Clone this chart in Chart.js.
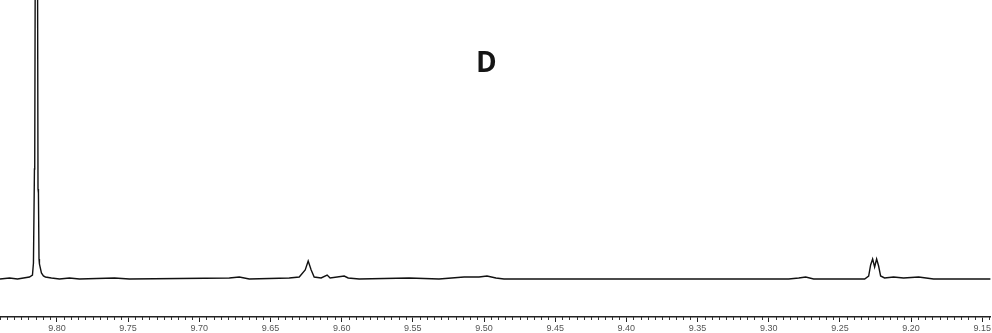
<!DOCTYPE html>
<html>
<head>
<meta charset="utf-8">
<script src="https://cdn.jsdelivr.net/npm/chart.js@4.4.0/dist/chart.umd.min.js"></script>
<style>
  html, body { margin: 0; padding: 0; background: #fff; }
  #wrap { position: relative; width: 992px; height: 333px; }
  #label { position: absolute; left: 476px; top: 47px; font: 700 28px/28px "Open Sans", sans-serif; color: #151515; }
</style>
</head>
<body>
<div id="wrap">
  <canvas id="spectrum"></canvas>
  <div id="label">D</div>
</div>
<script>
// chemical shift (ppm) and intensity
const ppm = [9.8400, 9.8333, 9.8277, 9.8235, 9.8193, 9.8172, 9.8165, 9.8158, 9.8156, 9.8151,
  9.8146, 9.8140, 9.8133, 9.8130, 9.8126, 9.8123, 9.8109, 9.8095, 9.8081, 9.8039,
  9.7982, 9.7912, 9.7842, 9.7596, 9.7491,
  9.6789, 9.6719, 9.6649, 9.6368, 9.6298, 9.6256, 9.6235, 9.6214, 9.6193, 9.6144,
  9.6102, 9.6081, 9.5982, 9.5954, 9.5877, 9.5526, 9.5316, 9.5140, 9.5035, 9.4979,
  9.4916, 9.4860, 9.2860, 9.2789, 9.2740, 9.2684, 9.2326, 9.2298, 9.2284, 9.2270,
  9.2256, 9.2242, 9.2228, 9.2214, 9.2186, 9.2123, 9.2053, 9.1947, 9.1842, 9.1442];
const intensity = [0, 1, 0, 1, 2, 4, 16, 110, 112, 400,
  600, 560, 90, 86, 20, 15, 6, 3, 2, 1,
  0, 1, 0, 1, 0,
  1, 2, 0, 1, 2, 9, 18, 9, 2, 1,
  4, 1, 3, 1, 0, 1, 0, 2, 2, 3,
  1, 0, 0, 1, 2, 0, 0, 3, 14, 20,
  12, 20, 13, 3, 1, 2, 1, 2, 0, 0];
const axisMin = 9.144, axisMax = 9.840;

const points = ppm.map((p, i) => ({ x: p, y: intensity[i] }));

const isMajor = v => Math.abs(v * 20 - Math.round(v * 20)) < 1e-6;

// short minor ticks every 0.005 ppm
const minorTicks = {
  id: 'minorTicks',
  afterDraw(chart) {
    const sc = chart.scales.x, ctx = chart.ctx;
    ctx.save();
    ctx.strokeStyle = '#333';
    ctx.lineWidth = 1;
    for (let k = Math.ceil(axisMin * 200); k <= axisMax * 200; k++) {
      const v = k / 200;
      if (isMajor(v)) continue;
      const px = Math.round(sc.getPixelForValue(v)) + 0.5;
      ctx.beginPath();
      ctx.moveTo(px, sc.top);
      ctx.lineTo(px, sc.top + 3);
      ctx.stroke();
    }
    ctx.restore();
  }
};

new Chart(document.getElementById('spectrum'), {
  type: 'line',
  data: {
    datasets: [{
      data: points,
      borderColor: '#111',
      borderWidth: 1.4,
      pointRadius: 0,
      tension: 0,
      fill: false
    }]
  },
  options: {
    responsive: true,
    maintainAspectRatio: false,
    animation: false,
    layout: { padding: 0 },
    plugins: { legend: { display: false }, tooltip: { enabled: false } },
    scales: {
      x: {
        type: 'linear',
        reverse: true,
        min: axisMin,
        max: axisMax,
        afterFit: sc => { sc.height = 16; },
        border: { display: true, color: '#222', width: 1.5 },
        grid: { drawOnChartArea: false, drawTicks: true, tickLength: 5, tickColor: '#222' },
        ticks: {
          stepSize: 0.05,
          includeBounds: false,
          autoSkip: false,
          maxRotation: 0,
          padding: 1,
          color: '#555',
          font: { family: 'Liberation Sans', size: 9 },
          callback: v => isMajor(v) ? v.toFixed(2) : ''
        }
      },
      y: {
        display: false,
        min: -38,
        max: 279
      }
    }
  },
  plugins: [minorTicks]
});
</script>
</body>
</html>
